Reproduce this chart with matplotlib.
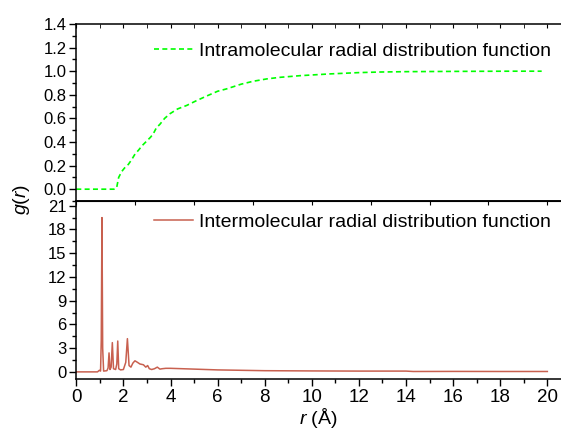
import matplotlib
matplotlib.use("Agg")
import matplotlib.pyplot as plt
from matplotlib.ticker import MultipleLocator

plt.rcParams['font.family'] = ['Liberation Sans', 'DejaVu Sans']
plt.rcParams['mathtext.fontset'] = 'custom'
plt.rcParams['mathtext.it'] = 'Liberation Sans:italic'
plt.rcParams['mathtext.rm'] = 'Liberation Sans'

# intramolecular g(r)
r_intra = [0.0, 1.0, 1.6, 1.71, 1.8, 1.93, 2.05, 2.21, 2.35, 2.5, 2.64, 2.8, 3.0,
           3.15, 3.27, 3.4, 3.55, 3.75, 3.98, 4.3, 4.69, 5.1, 5.54, 6.0, 6.38,
           7.0, 7.52, 8.1, 8.65, 9.5, 10.77, 12.0, 12.9, 14.0, 15.7, 17.0, 18.5, 19.76]
g_intra = [0.0, 0.0, 0.0, 0.01, 0.1, 0.15, 0.18, 0.21, 0.25, 0.3, 0.33, 0.37, 0.41,
           0.44, 0.47, 0.52, 0.55, 0.6, 0.64, 0.68, 0.71, 0.75, 0.79, 0.83, 0.85,
           0.89, 0.915, 0.935, 0.948, 0.962, 0.977, 0.988, 0.993, 0.996, 0.998, 0.999, 1.0, 1.0]

# intermolecular g(r)
r_inter = [0.0, 0.9, 0.98, 1.03, 1.06, 1.09, 1.12, 1.16, 1.3, 1.35, 1.39, 1.43,
           1.48, 1.53, 1.58, 1.67, 1.72, 1.76, 1.8, 1.88, 2.0, 2.1, 2.17, 2.24,
           2.32, 2.4, 2.49, 2.6, 2.7, 2.85, 2.95, 3.03, 3.1, 3.2, 3.32, 3.44,
           3.55, 3.65, 3.8, 4.0, 4.5, 5.0, 6.0, 7.0, 8.0, 10.0, 12.0, 14.0,
           14.3, 16.0, 18.0, 20.0]
g_inter = [0.0, 0.0, 0.2, 0.1, 4.0, 19.5, 3.0, 0.1, 0.15, 0.5, 2.4, 0.3,
           0.6, 3.7, 0.4, 0.3, 1.0, 3.9, 0.4, 0.25, 0.3, 1.2, 4.2, 0.8,
           0.6, 1.1, 1.4, 1.2, 1.0, 0.9, 0.6, 0.8, 0.4, 0.3, 0.4, 0.6,
           0.35, 0.4, 0.45, 0.45, 0.4, 0.35, 0.25, 0.2, 0.15, 0.12, 0.1, 0.1,
           0.05, 0.06, 0.05, 0.05]

fig = plt.figure(figsize=(5.61, 4.30), dpi=100)
ax1 = fig.add_axes([0.136, 0.5326, 0.864, 0.4116])
ax2 = fig.add_axes([0.136, 0.1186, 0.864, 0.414])

ax1.plot(r_intra, g_intra, color='#00ff00', linestyle='--', lw=1.2,
         dashes=(3, 2), label='Intramolecular radial distribution function')
ax2.plot(r_inter, g_inter, color='#c8604f', lw=1.1,
         label='Intermolecular radial distribution function')

for ax in (ax1, ax2):
    ax.set_xlim(0, 20.58)
    ax.spines['right'].set_visible(False)
    ax.xaxis.set_major_locator(MultipleLocator(2))
    ax.xaxis.set_minor_locator(MultipleLocator(1))
    ax.tick_params(axis='y', which='major', direction='out', length=5, width=1, labelsize=12, pad=2)
    ax.tick_params(axis='y', which='minor', direction='out', length=3, width=1)
    for s in ax.spines.values():
        s.set_linewidth(1.1)

ax1.set_ylim(-0.1, 1.4)
ax1.yaxis.set_major_locator(MultipleLocator(0.2))
ax1.yaxis.set_minor_locator(MultipleLocator(0.1))
ax1.yaxis.set_major_formatter(plt.FormatStrFormatter('%.1f'))
ax1.tick_params(axis='x', which='both', direction='in', top=True, bottom=False,
                labelbottom=False, length=3)

ax2.set_ylim(-0.9, 21.6)
ax2.yaxis.set_major_locator(MultipleLocator(3))
ax2.yaxis.set_minor_locator(MultipleLocator(1.5))
ax2.tick_params(axis='x', which='major', direction='out', length=5, width=1, labelsize=13.5, pad=2)
ax2.tick_params(axis='x', which='minor', direction='out', length=3, width=1)
ax2.secondary_xaxis('top').tick_params(axis='x', which='both', direction='in', length=3, labeltop=False)

ax1.legend(loc='center right', bbox_to_anchor=(0.995, 0.847), frameon=False,
           fontsize=14, handlelength=2.0, handletextpad=0.3, borderaxespad=0)
ax2.legend(loc='center right', bbox_to_anchor=(0.995, 0.882), frameon=False,
           fontsize=14, handlelength=2.0, handletextpad=0.3, borderaxespad=0)

ax2.set_xlabel(r'$\mathit{r}$ (Å)', fontsize=14, labelpad=0)
fig.text(0.038, 1 - 199 / 430, r'$\mathit{g}$($\mathit{r}$)', rotation=90,
         fontsize=14, ha='center', va='center')

fig.savefig('out.png', dpi=100)
